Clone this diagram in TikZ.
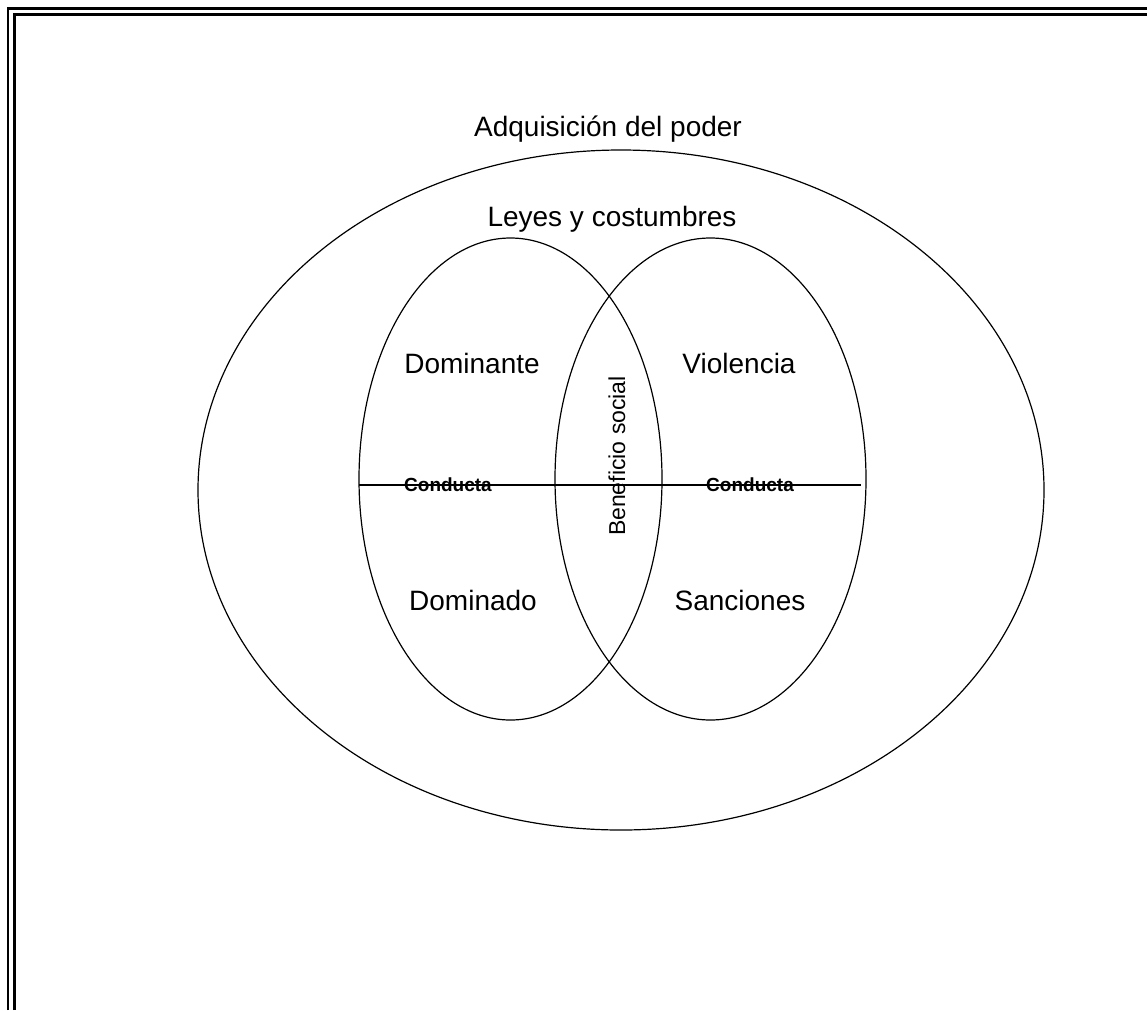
\documentclass[tikz,border=0pt]{standalone}
\usepackage{fontspec}
\setmainfont{Liberation Sans}
\newcommand{\bigfont}{\fontsize{28}{32}\selectfont}
\newcommand{\smallbold}{\fontsize{19}{22}\selectfont\bfseries}
\newcommand{\sidefont}{\fontsize{23}{26}\selectfont}
\newcommand{\mylinecolor}{black}
\tikzset{
  lbl/.style={inner sep=0pt, anchor=base, font=\bigfont},
  conducta/.style={inner sep=0pt, anchor=base, font=\smallbold},
  frameline/.style={line width=#1, \mylinecolor}
}

\begin{document}
\begin{tikzpicture}[x=1pt,y=-1pt,line width=1.2pt]
  \useasboundingbox (0,0) rectangle (1147,1010);

   % double frame, cut at right and bottom
   \draw[frameline=2.3pt] (8,1010) -- (8,8.5) -- (1147,8.5);
   \draw[frameline=2.6pt] (14.3,1010) -- (14.3,14.5) -- (1147,14.5);

   \draw (621,490) ellipse [x radius=423, y radius=340];
   \draw (510.5,479) ellipse [x radius=151.5, y radius=241];
   \draw (710.5,479) ellipse [x radius=155.5, y radius=241];

   \coordinate (lineL) at (359,485);
   \coordinate (lineR) at (861,485);
   \draw (lineL) -- (lineR);

   \node[lbl] (poder) at (608,136.7) {Adquisición del poder};
   \node[lbl] (leyes) at (612,226.7) {Leyes y costumbres};
   \node[lbl] (dominante) at (472,373) {Dominante};
   \node[lbl] (violencia) at (739,373) {Violencia};
   \node[lbl] (dominado) at (473,610) {Dominado};
   \node[lbl] (sanciones) at (740,610) {Sanciones};
   \node[conducta] (conductaL) at (448,491.7) {Conducta};
   \node[conducta] (conductaR) at (750,491.7) {Conducta};
   \node[inner sep=0pt, rotate=90, font=\sidefont] (beneficio) at (617,456) {Beneficio social};

\end{tikzpicture}
\end{document}
